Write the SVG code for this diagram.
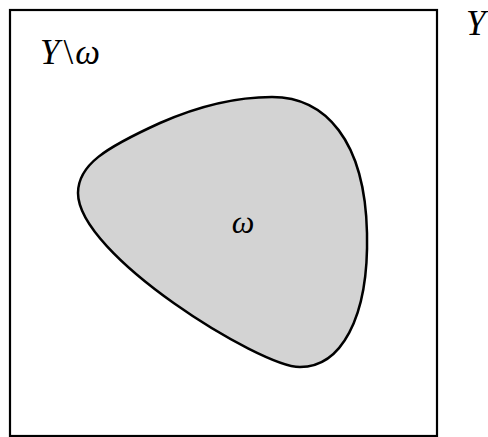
<svg xmlns="http://www.w3.org/2000/svg" width="488" height="437" viewBox="0 0 488 437">
<style>
.m{font-family:"Liberation Serif","DejaVu Serif",serif;font-style:italic;fill:#000}
</style>
<rect width="488" height="437" fill="#fff"/>
<g id="Y">
<rect x="10" y="10" width="427" height="426" fill="none" stroke="#000" stroke-width="2.2"/>
<text class="m" x="466" y="35" font-size="35">Y</text>
<text class="m" x="40" y="64" font-size="35">Y<tspan font-style="normal" dx="4">\</tspan><tspan dx="2">ω</tspan></text>
</g>
<g id="omega">
<path d="M78,193 C78,165 105,148 160,123 C200,105.4 235,97 272,97 C325,97 365,140 367,233 C369,320 340,367 300,367 C260,367 78,255 78,193 Z" fill="#d3d3d3" stroke="#000" stroke-width="2.5"/>
<text class="m" x="243" y="233" font-size="32" text-anchor="middle">ω</text>
</g>
</svg>
